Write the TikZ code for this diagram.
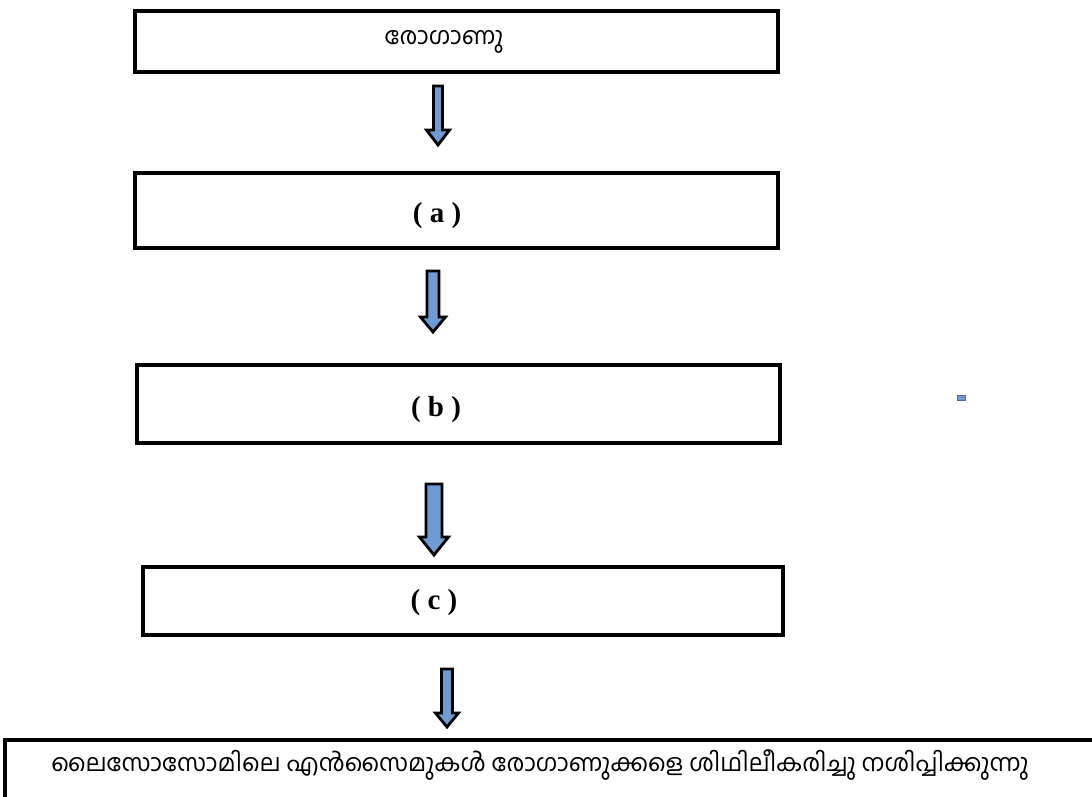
\documentclass[tikz,border=0pt]{standalone}
\usepackage{fontspec}
\newfontfamily\mlfont[Script=Malayalam]{Hind Kochi}
\setmainfont{Liberation Serif}
\definecolor{arrowblue}{RGB}{110,155,212}
\tikzset{
  stagebox/.style={draw=black, line width=3.2pt, fill=white},
  stagelabel/.style={font=\fontsize{29}{33}\selectfont\bfseries, inner sep=0pt},
  mltext/.style={font=\mlfont\fontsize{24}{28}\selectfont, inner sep=0pt},
  blockarrow/.style={draw=black, line width=2.8pt, fill=arrowblue, line join=miter},
}
% block arrow: centre x, shaft top, head top, tip, shaft half width, head half width
\newcommand\downblockarrow[6]{%
  \draw[blockarrow] (#1-#5,#2) -- (#1+#5,#2) -- (#1+#5,#3) -- (#1+#6,#3)
    -- (#1,#4) -- (#1-#6,#3) -- (#1-#5,#3) -- cycle;}
\begin{document}
\begin{tikzpicture}[x=1pt,y=-1pt]
  \useasboundingbox (0,0) rectangle (1092,796);
  \clip (0,0) rectangle (1092,796);

  % stage boxes
  \draw[stagebox] (135,11) rectangle (778,72);
  \node[mltext] (top) at (444,42) {രോഗാണു};

  \draw[stagebox] (135,173) rectangle (778,248);
  \node[stagelabel] (a) at (437,216) {( a )};

  \draw[stagebox] (137,365) rectangle (780,443);
  \node[stagelabel] (b) at (436,410) {( b )};

  \draw[stagebox] (143,567) rectangle (783,635);
  \node[stagelabel] (c) at (434,603) {( c )};

  \draw[stagebox] (5,740) rectangle (1110,820);
  \node[mltext] (final) at (540,765) {ലൈസോസോമിലെ എൻസൈമുകൾ രോഗാണുക്കളെ ശിഥിലീകരിച്ചു നശിപ്പിക്കുന്നു};

  % arrows between stages
  \downblockarrow{438}{86}{130}{145}{4.5}{11.5}
  \downblockarrow{433}{271}{317}{332}{6}{12.5}
  \downblockarrow{434}{484}{537}{555}{8}{14.5}
  \downblockarrow{447}{669}{713}{727}{5.5}{11.5}

  % small marker on the right
  \fill[arrowblue, draw=arrowblue!70!black, line width=0.4pt] (957,395) rectangle (965,400);
\end{tikzpicture}
\end{document}
